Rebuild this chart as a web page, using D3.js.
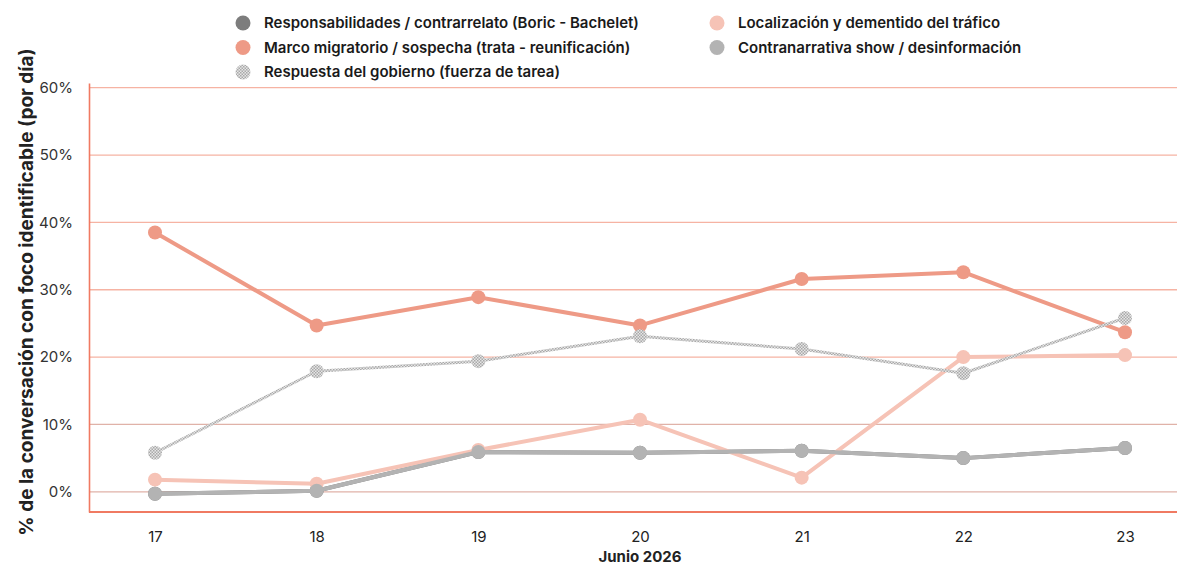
<!DOCTYPE html>
<html>
<head>
<meta charset="utf-8">
<script src="https://cdn.jsdelivr.net/npm/d3@7"></script>
<style>
  body { margin: 0; background: #fff; }
  text { font-family: Inter, "Noto Sans", sans-serif; }
</style>
</head>
<body>
<script>
// data
const days = ["17", "18", "19", "20", "21", "22", "23"]
const responsabilidades = [-0.3, 0.15, 5.9, 5.8, 6.1, 5.0, 6.5]
const marco = [38.5, 24.7, 28.9, 24.7, 31.6, 32.6, 23.7]
const respuesta = [5.8, 17.9, 19.4, 23.1, 21.2, 17.6, 25.8]
const localizacion = [1.8, 1.2, 6.2, 10.7, 2.1, 20.0, 20.3]
const contranarrativa = [-0.3, 0.15, 5.9, 5.8, 6.1, 5.0, 6.5]
const yTicks = [0, 10, 20, 30, 40, 50, 60]

const series = [
  {name: "Responsabilidades / contrarrelato (Boric - Bachelet)", values: responsabilidades, color: "#7d7d7d", width: 4},
  {name: "Localización y dementido del tráfico", values: localizacion, color: "#f6c3b6", width: 4},
  {name: "Marco migratorio / sospecha (trata - reunificación)", values: marco, color: "#ee9a86", width: 4},
  {name: "Contranarrativa show / desinformación", values: contranarrativa, color: "#b3b3b3", width: 4},
  {name: "Respuesta del gobierno (fuerza de tarea)", values: respuesta, color: "url(#dots)", width: 3}
]
const legendOrder = [
  [0, 0], [2, 0], [4, 0], [1, 1], [3, 1]
]

const w = 1178
const h = 566
const m = {top: 83, right: 1, bottom: 54, left: 89}

const svg = d3.select("body").append("svg")
  .attr("width", w).attr("height", h)

const defs = svg.append("defs")
const pat = defs.append("pattern").attr("id", "dots")
  .attr("width", 3).attr("height", 3).attr("patternUnits", "userSpaceOnUse")
pat.append("rect").attr("width", 3).attr("height", 3).attr("fill", "#e6e6e6")
pat.append("rect").attr("width", 1.5).attr("height", 1.5).attr("fill", "#a9a9a9")
pat.append("rect").attr("x", 1.5).attr("y", 1.5).attr("width", 1.5).attr("height", 1.5).attr("fill", "#a9a9a9")

const x = d3.scalePoint().domain(days).range([155, 1125])
const y = d3.scaleLinear().domain([-3, 60.7]).range([h - m.bottom, m.top])

// grid
svg.append("g").selectAll("line").data(yTicks).enter().append("line")
  .attr("x1", m.left).attr("x2", w - m.right)
  .attr("y1", d => y(d)).attr("y2", d => y(d))
  .attr("stroke", d => d <= 10 ? "#e0b2a8" : "#f6b3a3")
  .attr("stroke-width", 1.3)

// axes
const yAxis = svg.append("g").attr("transform", `translate(${m.left},0)`)
  .call(d3.axisLeft(y).tickValues(yTicks).tickFormat(d => d + "%").tickSize(0).tickPadding(16))
yAxis.select(".domain").attr("stroke", "#f07a62").attr("stroke-width", 1.6)
yAxis.selectAll("text").attr("font-size", 15).attr("fill", "#333")

const xAxis = svg.append("g").attr("transform", `translate(0,${h - m.bottom})`)
  .call(d3.axisBottom(x).tickSize(0).tickPadding(19))
xAxis.select(".domain").attr("stroke", "#f07a62").attr("stroke-width", 2)
  .attr("d", `M${m.left},0H${w - m.right}`)
xAxis.selectAll("text").attr("font-size", 15).attr("fill", "#222")

svg.append("text")
  .attr("x", x("20")).attr("y", 562)
  .attr("text-anchor", "middle").attr("font-size", 15).attr("font-weight", 700).attr("fill", "#222")
  .text("Junio 2026")

svg.append("text")
  .attr("transform", `translate(33,292) rotate(-90)`)
  .attr("text-anchor", "middle").attr("font-size", 19).attr("font-weight", 700).attr("fill", "#222")
  .text("% de la conversación con foco identificable (por día)")

// lines
const line = d3.line().x((d, i) => x(days[i])).y(d => y(d))
series.forEach(s => {
  const g = svg.append("g")
  g.append("path").datum(s.values)
    .attr("d", line).attr("fill", "none")
    .attr("stroke", s.color).attr("stroke-width", s.width)
    .attr("stroke-linejoin", "round")
  g.selectAll("circle").data(s.values).enter().append("circle")
    .attr("cx", (d, i) => x(days[i])).attr("cy", d => y(d))
    .attr("r", 7).attr("fill", s.color)
})

// legend
const legend = svg.append("g")
legendOrder.forEach(([idx, col], k) => {
  const row = legendOrder.slice(0, k).filter(o => o[1] === col).length
  const lx = col === 0 ? 243 : 717
  const ly = 23 + row * 24.5
  legend.append("circle").attr("cx", lx).attr("cy", ly).attr("r", 7.5).attr("fill", series[idx].color)
  legend.append("text").attr("x", lx + 21).attr("y", ly + 5)
    .attr("font-size", 15).attr("font-weight", 600).attr("fill", "#1a1a1a")
    .text(series[idx].name)
})
</script>
</body>
</html>
